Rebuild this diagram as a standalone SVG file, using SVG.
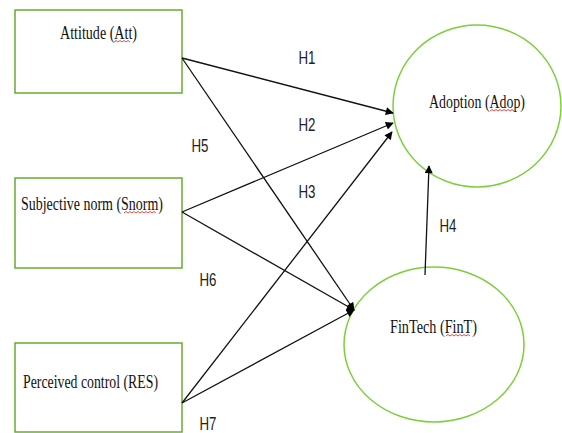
<svg xmlns="http://www.w3.org/2000/svg" width="562" height="433" viewBox="0 0 562 433">
<style>
.box{fill:#fff;stroke:#6aab2e;stroke-width:1.5}
.ell{fill:#fff;stroke:#7ccf3a;stroke-width:1.5}
.lbl{font-family:"Liberation Serif","Times New Roman",serif;font-size:18.5px;fill:#111}
.h{font-family:"Liberation Sans",Arial,sans-serif;font-size:18px;fill:#222}
.con{stroke:#111;stroke-width:1.3;fill:none;marker-end:url(#ah)}
.sq{stroke:#d02020;stroke-width:0.8;fill:none}
</style>
<defs>
<marker id="ah" viewBox="0 0 10 10" refX="9" refY="5" markerWidth="9" markerHeight="8" markerUnits="userSpaceOnUse" orient="auto">
<path d="M0,0 L10,5 L0,10 z" fill="#000"/>
</marker>
</defs>
<rect width="562" height="433" fill="#fff"/>
<g id="att">
<rect class="box" x="15" y="10" width="167" height="83"/>
<text class="lbl" x="60" y="39" textLength="77" lengthAdjust="spacingAndGlyphs">Attitude (Att)</text>
<path class="sq" d="M114,42 l2,-1.5 l2,1.5 l2,-1.5 l2,1.5 l2,-1.5 l2,1.5 l2,-1.5 l2,1.5"/>
</g>
<g id="snorm">
<rect class="box" x="15" y="178" width="167" height="90"/>
<text class="lbl" x="21" y="210" textLength="142" lengthAdjust="spacingAndGlyphs">Subjective norm (Snorm)</text>
<path class="sq" d="M124,213 l2,-1.5 l2,1.5 l2,-1.5 l2,1.5 l2,-1.5 l2,1.5 l2,-1.5 l2,1.5 l2,-1.5 l2,1.5 l2,-1.5 l2,1.5 l2,-1.5 l2,1.5 l2,-1.5 l2,1.5"/>
</g>
<g id="res">
<rect class="box" x="15" y="343" width="167" height="89"/>
<text class="lbl" x="23" y="388" textLength="135" lengthAdjust="spacingAndGlyphs">Perceived control (RES)</text>
</g>
<g id="adop">
<ellipse class="ell" cx="477" cy="106" rx="84" ry="81"/>
<text class="lbl" x="429" y="108" textLength="96" lengthAdjust="spacingAndGlyphs">Adoption (Adop)</text>
<path class="sq" d="M490,111 l2,-1.5 l2,1.5 l2,-1.5 l2,1.5 l2,-1.5 l2,1.5 l2,-1.5 l2,1.5 l2,-1.5 l2,1.5 l2,-1.5 l2,1.5"/>
</g>
<g id="fint">
<ellipse class="ell" cx="434" cy="344.5" rx="90" ry="77.5"/>
<text class="lbl" x="390" y="333" textLength="87" lengthAdjust="spacingAndGlyphs">FinTech (FinT)</text>
<path class="sq" d="M446,336 l2,-1.5 l2,1.5 l2,-1.5 l2,1.5 l2,-1.5 l2,1.5 l2,-1.5 l2,1.5 l2,-1.5 l2,1.5 l2,-1.5 l2,1.5"/>
</g>
<g id="connectors">
<line class="con" x1="182" y1="58" x2="393" y2="113"/>
<line class="con" x1="182" y1="58" x2="354" y2="310"/>
<line class="con" x1="182" y1="212" x2="393" y2="123"/>
<line class="con" x1="182" y1="212" x2="354" y2="310"/>
<line class="con" x1="182" y1="403" x2="392" y2="132"/>
<line class="con" x1="182" y1="403" x2="354" y2="310"/>
<line class="con" x1="425" y1="275" x2="429" y2="166"/>
<text class="h" x="307" y="64" text-anchor="middle" textLength="17" lengthAdjust="spacingAndGlyphs">H1</text>
<text class="h" x="307" y="131" text-anchor="middle" textLength="17" lengthAdjust="spacingAndGlyphs">H2</text>
<text class="h" x="307" y="198" text-anchor="middle" textLength="17" lengthAdjust="spacingAndGlyphs">H3</text>
<text class="h" x="448" y="232" text-anchor="middle" textLength="17" lengthAdjust="spacingAndGlyphs">H4</text>
<text class="h" x="200" y="152" text-anchor="middle" textLength="17" lengthAdjust="spacingAndGlyphs">H5</text>
<text class="h" x="208" y="286" text-anchor="middle" textLength="17" lengthAdjust="spacingAndGlyphs">H6</text>
<text class="h" x="208" y="430" text-anchor="middle" textLength="17" lengthAdjust="spacingAndGlyphs">H7</text>
</g>
</svg>
